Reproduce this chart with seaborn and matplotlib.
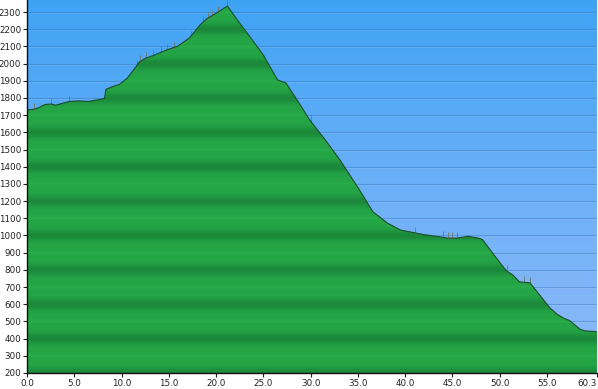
import numpy as np
import matplotlib
matplotlib.use("Agg")
import matplotlib.pyplot as plt
import seaborn as sns
import pandas as pd
from matplotlib.colors import LinearSegmentedColormap

# ---- data ----
km = [0.0, 0.8, 1.3, 1.9, 2.6, 3.0, 3.5, 4.5, 5.5, 6.5, 7.5, 8.2, 8.35, 9.0, 9.8,
      10.6, 11.3, 11.9, 12.5, 13.5, 14.8, 15.9, 17.2, 18.3, 19.0, 19.7, 20.5, 21.2,
      22.3, 23.6, 25.0, 26.5, 27.4, 28.9, 29.9, 31.5, 33.1, 35.0, 36.6, 37.3, 38.1,
      39.5, 40.5, 42.0, 43.7, 44.5, 45.5, 46.7, 47.9, 48.2, 49.5, 50.7, 51.4, 52.1,
      53.2, 54.0, 55.3, 56.0, 56.7, 57.4, 58.5, 59.0, 59.9, 60.3]
elev = [1730, 1735, 1745, 1762, 1765, 1758, 1765, 1780, 1783, 1780, 1790, 1797, 1850,
        1865, 1880, 1915, 1965, 2010, 2030, 2050, 2080, 2100, 2150, 2225, 2260, 2283,
        2310, 2335, 2250, 2155, 2050, 1905, 1887, 1760, 1672, 1560, 1440, 1280, 1137,
        1108, 1073, 1032, 1021, 1005, 992, 985, 985, 995, 983, 975, 880, 795, 770,
        730, 725, 670, 580, 545, 521, 505, 455, 445, 442, 440]
marker_km = [0.7, 2.5, 4.4, 11.6, 12.0, 12.6, 13.3, 14.2, 14.8, 15.5, 17.3,
             18.6, 19.1, 19.6, 20.2, 21.2, 30.0, 41.0, 44.0, 44.5, 45.0, 45.5,
             50.8, 52.6, 53.2]
xtick_vals = [0, 5, 10, 15, 20, 25, 30, 35, 40, 45, 50, 55, 60.3]
ytick_vals = list(range(200, 2400, 100))

df = pd.DataFrame({"km": km, "elev": elev})
YMIN, YMAX = 200, 2370
XMAX = 60.3

sns.set_theme(style="white")
plt.rcParams['font.family'] = ['DejaVu Sans']

fig = plt.figure(figsize=(5.98, 3.89), dpi=100)
ax = fig.add_axes([27/598, 16/389, 570/598, 373/389])

# sky gradient
ys = np.linspace(0, 1, 256)[:, None]
sky_cmap = LinearSegmentedColormap.from_list("sky", ["#8fbaf9", "#6cb0f8", "#3fa3f4"])
ax.imshow(ys * np.ones((1, 4)), cmap=sky_cmap, origin="lower", aspect="auto",
          extent=[0, XMAX, YMIN, YMAX], zorder=0, interpolation="bilinear")

# sky grid lines
for y in ytick_vals[1:]:
    ax.axhline(y, color="#2f6fb8", lw=0.8, alpha=0.4, zorder=1)
    ax.axhline(y - 6, color="#ffffff", lw=0.6, alpha=0.12, zorder=1)

# green banded fill
yy = np.linspace(YMIN, YMAX, 2000)
d_even = np.abs(((yy + 100) % 200) - 100)      # distance to even hundreds
d_odd = np.abs((yy % 200) - 100)               # distance to odd hundreds
dark = np.exp(-(d_even / 32.0) ** 2)
light = np.exp(-(d_odd / 8.0) ** 2)
base = np.array([0x24, 0xa6, 0x47]) / 255
darkc = np.array([0x1b, 0x88, 0x3a]) / 255
lightc = np.array([0x2e, 0xb2, 0x50]) / 255
col = base[None, :] * (1 - dark[:, None]) + darkc[None, :] * dark[:, None]
col = col * (1 - 0.5 * light[:, None]) + lightc[None, :] * 0.5 * light[:, None]
img = np.repeat(col[:, None, :], 4, axis=1)
poly = ax.fill_between(df["km"], df["elev"], YMIN, color="none", lw=0)
im = ax.imshow(img, origin="lower", aspect="auto", extent=[0, XMAX, YMIN, YMAX],
               zorder=2, interpolation="bilinear")
im.set_clip_path(poly.get_paths()[0], transform=ax.transData)

# waypoint marks
mk_e = np.interp(marker_km, km, elev)
ax.vlines(marker_km, mk_e - 5, mk_e + 35, color="#6a7a70", lw=0.6, zorder=3)

# outline
sns.lineplot(data=df, x="km", y="elev", ax=ax, color="#1d4d2c", lw=0.8, zorder=4)

ax.set_xlim(0, XMAX)
ax.set_ylim(YMIN, YMAX)
ax.set_xlabel("")
ax.set_ylabel("")
ax.set_xticks(xtick_vals)
ax.set_xticklabels([f"{v:.1f}" for v in xtick_vals])
ax.set_yticks(ytick_vals)
ax.set_yticklabels([str(v) for v in ytick_vals])
ax.tick_params(axis="both", labelsize=6.3, colors="#222222", length=3, width=0.8,
               pad=1.2, direction="out", left=True, bottom=True)
ax.get_xticklabels()[-1].set_horizontalalignment("right")
for s in ["top", "right"]:
    ax.spines[s].set_visible(False)
for s in ["left", "bottom"]:
    ax.spines[s].set_color("#111111")
    ax.spines[s].set_linewidth(1.0)
    ax.spines[s].set_zorder(5)
ax.grid(False)

fig.savefig("out.png", dpi=100)
